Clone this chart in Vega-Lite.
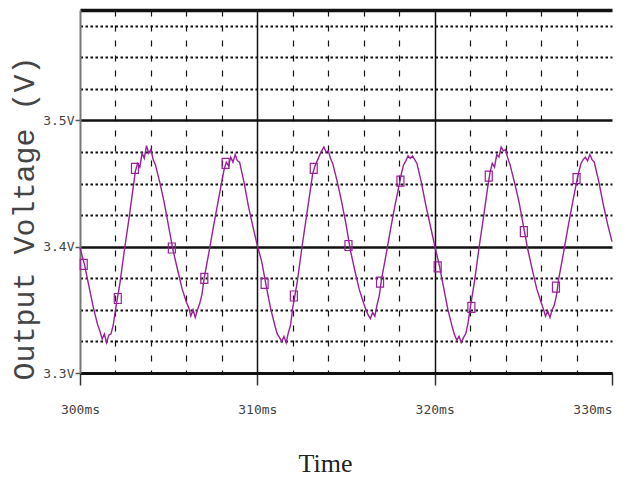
{
"$schema": "https://vega.github.io/schema/vega-lite/v6.json",
"width": 532, "height": 363,
"autosize": {"type": "none"},
"padding": {"left": 80, "top": 10, "right": 17, "bottom": 104},
"background": "white",
"config": {"view": {"stroke": null}},
"datasets": {
"wave": [
{"t":300.0,"v":3.399},{"t":300.25,"v":3.386},{"t":300.5,"v":3.369},{"t":300.75,"v":3.352},{"t":301.0,"v":3.338},{"t":301.125,"v":3.333},{"t":301.25,"v":3.327},{"t":301.375,"v":3.331},{"t":301.5,"v":3.324},{"t":301.625,"v":3.330},{"t":301.75,"v":3.331},{"t":301.875,"v":3.338},{"t":302.0,"v":3.350},{"t":302.25,"v":3.371},{"t":302.5,"v":3.397},{"t":302.75,"v":3.421},{"t":303.0,"v":3.447},{"t":303.125,"v":3.460},{"t":303.25,"v":3.466},{"t":303.375,"v":3.463},{"t":303.5,"v":3.474},{"t":303.625,"v":3.470},{"t":303.75,"v":3.480},{"t":303.875,"v":3.474},{"t":304.0,"v":3.477},{"t":304.125,"v":3.469},{"t":304.25,"v":3.465},{"t":304.5,"v":3.451},{"t":304.75,"v":3.435},{"t":305.0,"v":3.416},{"t":305.25,"v":3.397},{"t":305.5,"v":3.382},{"t":305.75,"v":3.367},{"t":306.0,"v":3.356},{"t":306.125,"v":3.352},{"t":306.25,"v":3.345},{"t":306.375,"v":3.350},{"t":306.5,"v":3.344},{"t":306.625,"v":3.350},{"t":306.75,"v":3.355},{"t":306.875,"v":3.362},{"t":307.0,"v":3.375},{"t":307.25,"v":3.394},{"t":307.5,"v":3.414},{"t":307.75,"v":3.433},{"t":308.0,"v":3.452},{"t":308.125,"v":3.461},{"t":308.25,"v":3.467},{"t":308.375,"v":3.464},{"t":308.5,"v":3.471},{"t":308.625,"v":3.467},{"t":308.75,"v":3.473},{"t":308.875,"v":3.468},{"t":309.0,"v":3.467},{"t":309.25,"v":3.451},{"t":309.5,"v":3.432},{"t":309.75,"v":3.416},
{"t":310.0,"v":3.401},{"t":310.25,"v":3.388},{"t":310.5,"v":3.369},{"t":310.75,"v":3.351},{"t":311.0,"v":3.337},{"t":311.125,"v":3.331},{"t":311.25,"v":3.328},{"t":311.375,"v":3.325},{"t":311.5,"v":3.329},{"t":311.625,"v":3.324},{"t":311.75,"v":3.332},{"t":311.875,"v":3.338},{"t":312.0,"v":3.352},{"t":312.25,"v":3.372},{"t":312.5,"v":3.398},{"t":312.75,"v":3.422},{"t":313.0,"v":3.446},{"t":313.125,"v":3.458},{"t":313.25,"v":3.464},{"t":313.375,"v":3.468},{"t":313.5,"v":3.472},{"t":313.625,"v":3.476},{"t":313.75,"v":3.479},{"t":313.875,"v":3.475},{"t":314.0,"v":3.476},{"t":314.125,"v":3.470},{"t":314.25,"v":3.466},{"t":314.5,"v":3.452},{"t":314.75,"v":3.436},{"t":315.0,"v":3.418},{"t":315.25,"v":3.397},{"t":315.5,"v":3.381},{"t":315.75,"v":3.366},{"t":316.0,"v":3.355},{"t":316.125,"v":3.350},{"t":316.25,"v":3.346},{"t":316.375,"v":3.343},{"t":316.5,"v":3.348},{"t":316.625,"v":3.345},{"t":316.75,"v":3.354},{"t":316.875,"v":3.361},{"t":317.0,"v":3.374},{"t":317.25,"v":3.393},{"t":317.5,"v":3.413},{"t":317.75,"v":3.432},{"t":318.0,"v":3.449},{"t":318.125,"v":3.458},{"t":318.25,"v":3.465},{"t":318.375,"v":3.468},{"t":318.5,"v":3.472},{"t":318.625,"v":3.470},{"t":318.75,"v":3.472},{"t":318.875,"v":3.469},{"t":319.0,"v":3.466},{"t":319.25,"v":3.451},{"t":319.5,"v":3.433},{"t":319.75,"v":3.417},
{"t":320.0,"v":3.401},{"t":320.25,"v":3.386},{"t":320.5,"v":3.368},{"t":320.75,"v":3.350},{"t":321.0,"v":3.336},{"t":321.125,"v":3.330},{"t":321.25,"v":3.326},{"t":321.375,"v":3.329},{"t":321.5,"v":3.324},{"t":321.625,"v":3.328},{"t":321.75,"v":3.331},{"t":321.875,"v":3.339},{"t":322.0,"v":3.351},{"t":322.25,"v":3.373},{"t":322.5,"v":3.399},{"t":322.75,"v":3.423},{"t":323.0,"v":3.448},{"t":323.125,"v":3.459},{"t":323.25,"v":3.466},{"t":323.375,"v":3.463},{"t":323.5,"v":3.473},{"t":323.625,"v":3.471},{"t":323.75,"v":3.479},{"t":323.875,"v":3.476},{"t":324.0,"v":3.477},{"t":324.125,"v":3.470},{"t":324.25,"v":3.465},{"t":324.5,"v":3.451},{"t":324.75,"v":3.436},{"t":325.0,"v":3.417},{"t":325.25,"v":3.398},{"t":325.5,"v":3.382},{"t":325.75,"v":3.367},{"t":326.0,"v":3.356},{"t":326.125,"v":3.351},{"t":326.25,"v":3.345},{"t":326.375,"v":3.349},{"t":326.5,"v":3.344},{"t":326.625,"v":3.350},{"t":326.75,"v":3.354},{"t":326.875,"v":3.362},{"t":327.0,"v":3.375},{"t":327.25,"v":3.394},{"t":327.5,"v":3.414},{"t":327.75,"v":3.433},{"t":328.0,"v":3.451},{"t":328.125,"v":3.459},{"t":328.25,"v":3.466},{"t":328.375,"v":3.469},{"t":328.5,"v":3.471},{"t":328.625,"v":3.468},{"t":328.75,"v":3.473},{"t":328.875,"v":3.469},{"t":329.0,"v":3.467},{"t":329.25,"v":3.452},{"t":329.5,"v":3.434},{"t":329.75,"v":3.418},{"t":330.0,"v":3.404}
],
"markers": [
{"t":300.21,"v":3.386},{"t":302.13,"v":3.359},{"t":303.1,"v":3.462},{"t":305.18,"v":3.399},{"t":307.01,"v":3.375},{"t":308.21,"v":3.466},
{"t":310.41,"v":3.371},{"t":312.06,"v":3.361},{"t":313.18,"v":3.462},{"t":315.14,"v":3.401},{"t":316.92,"v":3.372},{"t":318.07,"v":3.452},
{"t":320.17,"v":3.384},{"t":322.07,"v":3.352},{"t":323.05,"v":3.456},{"t":325.03,"v":3.412},{"t":326.84,"v":3.368},{"t":328.0,"v":3.454}
]
},
"encoding": {
"x": {"field": "t", "type": "quantitative",
"scale": {"domain": [300, 330], "nice": false, "zero": false},
"axis": {
"values": [300,302,304,306,308,310,312,314,316,318,320,322,324,326,328,330],
"title": "Time",
"titleFont": "Liberation Serif", "titleFontSize": 26, "titleFontWeight": "normal", "titleColor": "#222",
"titleX": 245, "titleY": 98, "titleAlign": "center", "titleBaseline": "alphabetic",
"labelExpr": "datum.value % 10 == 0 ? datum.value + 'ms' : ''",
"labelFont": "DejaVu Sans Mono", "labelFontSize": 13, "labelColor": "#444", "labelPadding": 18,
"labelFlush": false, "labelOverlap": false,
"labelAlign": {"condition": {"test": "datum.value == 330", "value": "right"}, "value": "center"},
"domainColor": "#111", "domainWidth": 3,
"tickSize": 12, "tickColor": "#333", "tickWidth": 1.5,
"tickOpacity": {"condition": {"test": "datum.value % 10 == 0", "value": 1}, "value": 0},
"grid": true, "gridColor": "#111",
"gridDash": {"condition": {"test": "datum.value % 10 == 0", "value": []}, "value": [6, 9]},
"gridWidth": {"condition": {"test": "datum.value % 10 == 0", "value": 1.5}, "value": 1.2},
"gridOpacity": {"condition": {"test": "datum.value == 300 || datum.value == 330", "value": 0}, "value": 1}
}},
"y": {"field": "v", "type": "quantitative",
"scale": {"domain": [3.3, 3.5875], "nice": false, "zero": false},
"axis": {
"values": [3.3,3.325,3.35,3.375,3.4,3.425,3.45,3.475,3.5,3.525,3.55,3.575,3.5875],
"title": "Output Voltage (V)",
"titleFont": "Liberation Mono", "titleFontSize": 30, "titleFontWeight": "normal", "titleColor": "#444",
"titleAngle": 270, "titleX": -56, "titleY": 208, "titleAlign": "center", "titleBaseline": "middle",
"labelExpr": "abs(datum.value*10 - round(datum.value*10)) < 0.001 ? format(datum.value, '.1f') + 'V' : ''",
"labelFont": "DejaVu Sans Mono", "labelFontSize": 13, "labelColor": "#444", "labelPadding": 1,
"labelFlush": false, "labelOverlap": false,
"domainColor": "#777", "domainWidth": 2,
"tickSize": 5, "tickColor": "#555", "tickWidth": 1.5,
"tickOpacity": {"condition": {"test": "abs(datum.value*10 - round(datum.value*10)) < 0.001", "value": 1}, "value": 0},
"grid": true, "gridColor": "#111",
"gridDash": {"condition": {"test": "abs(datum.value*10 - round(datum.value*10)) < 0.001 || datum.value > 3.58", "value": []}, "value": [2.5, 2.5]},
"gridWidth": {"condition": [{"test": "datum.value > 3.58", "value": 3.5}, {"test": "abs(datum.value*10 - round(datum.value*10)) < 0.001", "value": 2.5}], "value": 2}
}}
},
"layer": [
{
"data": {"name": "wave"},
"mark": {"type": "line", "color": "#9a1f9a", "strokeWidth": 1.4}
},
{
"data": {"name": "markers"},
"mark": {"type": "point", "shape": "M-0.7,-1H0.7V1H-0.7Z", "size": 100, "filled": false, "stroke": "#9a1f9a", "strokeWidth": 1.2, "opacity": 1}
}
]
}
